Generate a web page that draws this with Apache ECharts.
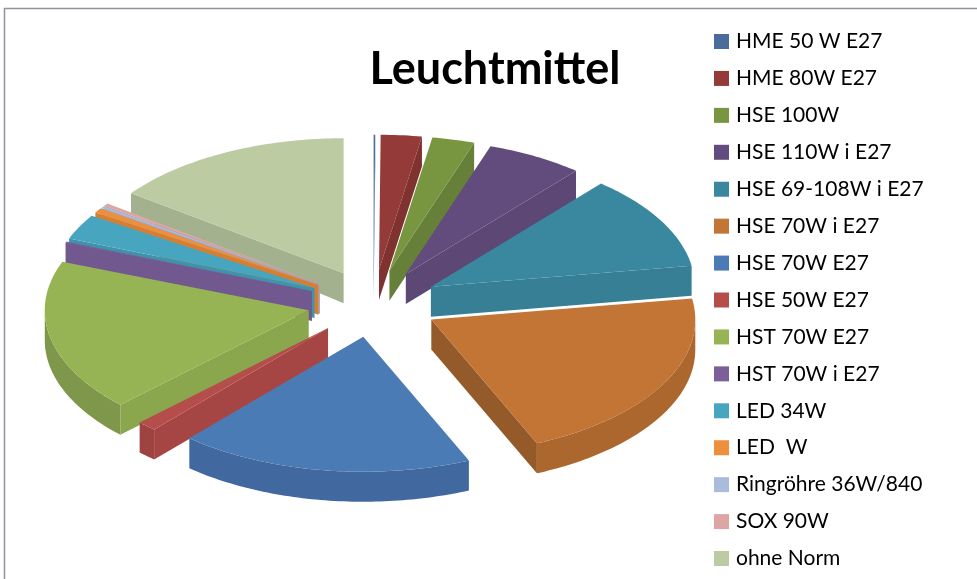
<!DOCTYPE html>
<html><head><meta charset="utf-8">
<style>html,body{margin:0;padding:0;background:#fff}#c{width:977px;height:579px}</style>
<script src="https://cdn.jsdelivr.net/npm/echarts@6/dist/echarts.min.js"></script>
</head><body><div id="c"></div>
<script>
const titleText = 'Leuchtmittel';
const categories = ['HME 50 W E27','HME 80W E27','HSE 100W','HSE 110W i E27','HSE 69-108W i E27','HSE 70W i E27','HSE 70W E27','HSE 50W E27','HST 70W E27','HST 70W i E27','LED 34W','LED  W','Ringröhre 36W/840','SOX 90W','ohne Norm'];
const values = [0.1,2.5,2.6,5.95,11.35,20.95,18.0,1.2,18.2,0.15,3.0,0.55,0.25,0.3,14.9];
const topColors = ['#4A6C9C','#943A38','#78963F','#624B7D','#3A889F','#C27535','#4A7BB4','#B54D4B','#96B454','#7A5F99','#48A5BF','#EE8F3C','#A9BCDC','#DDA6A4','#BCCBA2'];
const radialColors = ['#4A6C9C','#7F3230','#667F39','#5C4775','#367F94','#945A29','#4169A0','#A64644','#8AA74D','#71588F','#3F93AB','#D67F33','#96A8C6','#C49492','#A3B18E'];
const arcColors = ['#4A6C9C','#7F3230','#667F39','#5C4775','#367F94','#AC672E','#4169A0','#9E4342','#7E974A','#71588F','#3F93AB','#D67F33','#96A8C6','#C49492','#A3B18E'];

const CX = 373.4, CY = 303.4, RX = 264, RY = 135, EXPLODE = 0.25, DEPTH = 30, DEPTH_BACK = 21;
const total = values.reduce((a, b) => a + b, 0);
let running = 0;
const spans = values.map(v => { const s = running / total * 360; running += v; return [s, running / total * 360]; });
const rad = d => d * Math.PI / 180;

function slicePainter(i) {
  const [a0, a1] = spans[i];
  const mid = rad((a0 + a1) / 2);
  const ax = CX + Math.sin(mid) * RX * EXPLODE, ay = CY - Math.cos(mid) * RY * EXPLODE;
  const rim = d => [ax + Math.sin(rad(d)) * RX, ay - Math.cos(rad(d)) * RY];
  const rimDepth = d => (Math.sin(rad(d)) < -0.5 && Math.cos(rad(d)) > 0) ? DEPTH_BACK : DEPTH;
  const down = (p, h) => [p[0], p[1] + h];
  const arc = (s, e) => { const out = []; const n = Math.max(1, Math.ceil(e - s)); for (let k = 0; k <= n; k++) out.push(s + (e - s) * k / n); return out; };
  const faces = [];
  const radial = d => faces.push({ type: 'polygon', silent: true, shape: { points: [[ax, ay], rim(d), down(rim(d), rimDepth(d)), [ax, ay + DEPTH]] }, style: { fill: radialColors[i] } });
  if (Math.sin(rad(a0)) < 0) radial(a0);
  if (Math.sin(rad(a1)) > 0) radial(a1);
  const s = Math.max(a0, 90), e = Math.min(a1, 270);
  if (e > s) {
    const ds = arc(s, e);
    const pts = ds.map(rim).concat(ds.slice().reverse().map(d => down(rim(d), rimDepth(d))));
    faces.push({ type: 'polygon', silent: true, shape: { points: pts }, style: { fill: arcColors[i] } });
  }
  faces.push({ type: 'polygon', silent: true, shape: { points: [[ax, ay]].concat(arc(a0, a1).map(rim)) }, style: { fill: topColors[i] } });
  return { type: 'group', children: faces };
}

const depthRank = spans.map((sp, i) => ({ i, y: Math.cos(rad((sp[0] + sp[1]) / 2)) })).sort((a, b) => b.y - a.y).map(o => o.i);

const chart = echarts.init(document.getElementById('c'), null, { renderer: 'canvas' });
chart.setOption({
  animation: false,
  backgroundColor: '#fff',
  title: { text: titleText, left: 490, top: 42, textAlign: 'center', textStyle: { fontFamily: 'Lato', fontWeight: 'bold', fontSize: 45, color: '#000' } },
  legend: {
    data: categories, orient: 'vertical', left: 709, top: 24, height: 550, icon: 'rect', itemWidth: 15, itemHeight: 15, itemGap: 11.93,
    selectedMode: false,
    textStyle: { fontFamily: 'Lato', fontSize: 21, color: '#000', lineHeight: 25, padding: [0, 0, 0, 2] }
  },
  graphic: [
    { type: 'polyline', silent: true, shape: { points: [[4.5, 579], [4.5, 8.5], [977, 8.5]] }, style: { fill: null, stroke: '#8E939C', lineWidth: 1.5 } }
  ],
  series: categories.map((name, i) => ({
    type: 'custom', name, coordinateSystem: 'none', z: 2 + depthRank.indexOf(i),
    itemStyle: { color: topColors[i] }, silent: true,
    data: [[values[i]]],
    renderItem: () => slicePainter(i)
  }))
});
</script></body></html>
